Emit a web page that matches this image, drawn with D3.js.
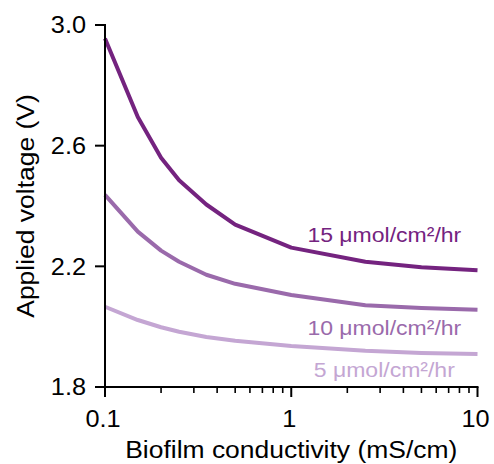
<!DOCTYPE html>
<html>
<head>
<meta charset="utf-8">
<script src="https://cdn.jsdelivr.net/npm/d3@7"></script>
<style>
  html, body { margin: 0; padding: 0; background: #fff; }
  svg { display: block; font-family: "Liberation Sans", Arial, sans-serif; }
</style>
</head>
<body>
<svg id="chart" width="494" height="464"></svg>
<script>
// Biofilm conductivity (mS/cm) sampled along each curve
const conductivity = [0.1, 0.15, 0.2, 0.25, 0.35, 0.5, 1, 2.5, 5, 10];

// Applied voltage (V) for each current density
const voltage15 = [2.955, 2.695, 2.560, 2.485, 2.405, 2.338, 2.262, 2.215, 2.197, 2.187];
const voltage10 = [2.437, 2.315, 2.252, 2.215, 2.172, 2.142, 2.105, 2.071, 2.062, 2.056];
const voltage5  = [2.066, 2.022, 1.998, 1.983, 1.966, 1.953, 1.936, 1.920, 1.913, 1.909];

const seriesNames = ["15 μmol/cm²/hr", "10 μmol/cm²/hr", "5 μmol/cm²/hr"];
const seriesValues = [voltage15, voltage10, voltage5];

const xTicks = [0.1, 1, 10];
const xTickLabels = ["0.1", "1", "10"];
const yTicks = [1.8, 2.2, 2.6, 3.0];
const yTickLabels = ["1.8", "2.2", "2.6", "3.0"];

const colors = ["#74237f", "#9a6aab", "#c4a6d3"];

const svg = d3.select("#chart");
const plotLeft = 105, plotRight = 477.5, plotTop = 25, plotBottom = 387;

const x = d3.scaleLog().domain([0.1, 10]).range([plotLeft, plotRight]);
const y = d3.scaleLinear().domain([1.8, 3.0]).range([plotBottom, plotTop]);

// widen glyphs slightly (the typeface used here is a little wider than Arial)
function stretch(sel, k) {
  sel.each(function () {
    const len = this.getComputedTextLength();
    d3.select(this).attr("textLength", len * k).attr("lengthAdjust", "spacingAndGlyphs");
  });
}

// curves
const line = d3.line()
  .x((d, i) => x(conductivity[i]))
  .y(d => y(d));

svg.append("g")
  .selectAll("path")
  .data(seriesValues)
  .join("path")
  .attr("d", d => line(d))
  .attr("fill", "none")
  .attr("stroke", (d, i) => colors[i])
  .attr("stroke-width", 4)
  .attr("stroke-linejoin", "round");

// x axis
const minorTicks = [];
for (const dec of [0.1, 1]) for (let m = 2; m <= 9; m++) minorTicks.push(dec * m);

const xAxis = svg.append("g").attr("transform", `translate(0,${plotBottom})`);
xAxis.append("line").attr("x1", plotLeft - 1).attr("x2", plotRight + 1)
  .attr("stroke", "#000").attr("stroke-width", 2);
xAxis.selectAll(".minor").data(minorTicks).join("line")
  .attr("class", "minor")
  .attr("x1", d => x(d)).attr("x2", d => x(d))
  .attr("y1", 0).attr("y2", 6)
  .attr("stroke", "#000").attr("stroke-width", 1.6);
xAxis.selectAll(".major").data(xTicks).join("line")
  .attr("class", "major")
  .attr("x1", d => x(d)).attr("x2", d => x(d))
  .attr("y1", 0).attr("y2", 10)
  .attr("stroke", "#000").attr("stroke-width", 2);
xAxis.selectAll("text").data(xTicks).join("text")
  .attr("x", d => x(d) - 2).attr("y", 40)
  .attr("text-anchor", "middle")
  .attr("font-size", 23)
  .text((d, i) => xTickLabels[i])
  .call(stretch, 1.1);

// y axis
const yAxis = svg.append("g").attr("transform", `translate(${plotLeft},0)`);
yAxis.append("line").attr("y1", plotTop - 1).attr("y2", plotBottom + 1)
  .attr("stroke", "#000").attr("stroke-width", 2);
yAxis.selectAll(".major").data(yTicks).join("line")
  .attr("class", "major")
  .attr("x1", -10).attr("x2", 0)
  .attr("y1", d => y(d)).attr("y2", d => y(d))
  .attr("stroke", "#000").attr("stroke-width", 2);
yAxis.selectAll("text").data(yTicks).join("text")
  .attr("x", -19).attr("y", d => y(d))
  .attr("dy", "0.36em")
  .attr("text-anchor", "end")
  .attr("font-size", 23)
  .text((d, i) => yTickLabels[i])
  .call(stretch, 1.1);

// axis titles
svg.append("text")
  .attr("x", (plotLeft + plotRight) / 2).attr("y", 458)
  .attr("text-anchor", "middle")
  .attr("font-size", 23)
  .text("Biofilm conductivity (mS/cm)")
  .call(stretch, 1.15);

svg.append("text")
  .attr("transform", `translate(34,${(plotTop + plotBottom) / 2}) rotate(-90)`)
  .attr("text-anchor", "middle")
  .attr("font-size", 23)
  .text("Applied voltage (V)")
  .call(stretch, 1.15);

// series labels
const labelY = [2.281, 1.972, 1.833];
svg.append("g").selectAll("text").data(seriesNames).join("text")
  .attr("x", x(3.16))
  .attr("y", (d, i) => y(labelY[i]))
  .attr("text-anchor", "middle")
  .attr("font-size", 20)
  .attr("fill", (d, i) => colors[i])
  .text(d => d)
  .call(stretch, 1.15);
</script>
</body>
</html>
